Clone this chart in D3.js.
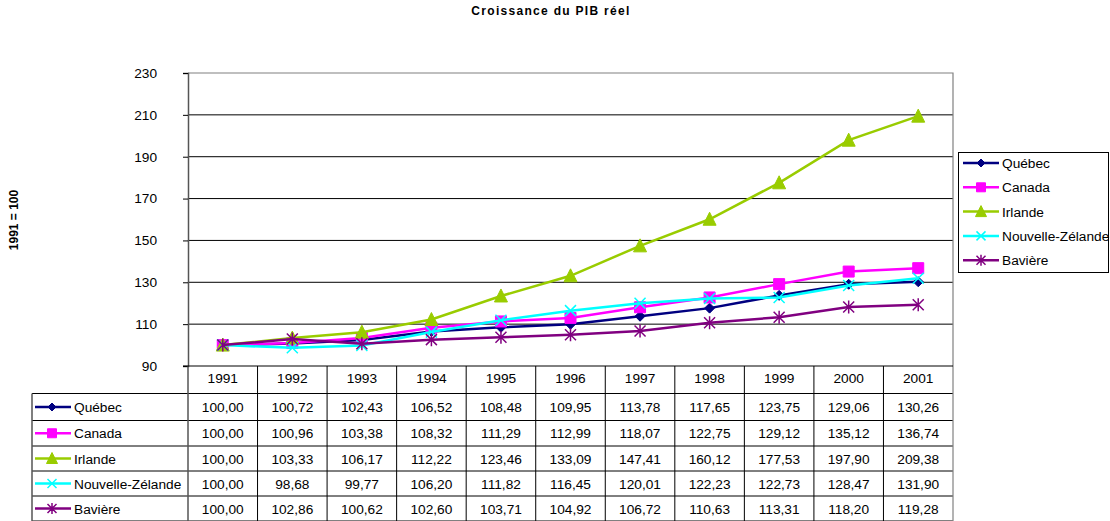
<!DOCTYPE html>
<html><head><meta charset="utf-8">
<script src="https://cdn.jsdelivr.net/npm/d3@7"></script>
<style>body{margin:0;background:#fff}svg{display:block;font-family:"Liberation Sans",Arial,sans-serif}</style>
</head><body><svg id="c" width="1110" height="521"></svg>
<script>
const years = ["1991","1992","1993","1994","1995","1996","1997","1998","1999","2000","2001"];
const seriesNames = ["Québec","Canada","Irlande","Nouvelle-Zélande","Bavière"];
const quebec = [100.00,100.72,102.43,106.52,108.48,109.95,113.78,117.65,123.75,129.06,130.26];
const canada = [100.00,100.96,103.38,108.32,111.29,112.99,118.07,122.75,129.12,135.12,136.74];
const irlande = [100.00,103.33,106.17,112.22,123.46,133.09,147.41,160.12,177.53,197.90,209.38];
const nz = [100.00,98.68,99.77,106.20,111.82,116.45,120.01,122.23,122.73,128.47,131.90];
const baviere = [100.00,102.86,100.62,102.60,103.71,104.92,106.72,110.63,113.31,118.20,119.28];
const yTicks = [90,110,130,150,170,190,210,230];
const colors = ["#000080","#FF00FF","#99CC00","#00FFFF","#800080"];
const markers = ["diamond","square","triangle","x","star"];
const seriesVals = [quebec,canada,irlande,nz,baviere];

const FS = 13.7;
const svg = d3.select("#c");
const L=188, R=953, T=73, B=366;
const x = d3.scaleBand().domain(years).range([L,R]);
const y = d3.scaleLinear().domain([90,230]).range([B,T]);

svg.append("text").attr("x",551).attr("y",15).attr("text-anchor","middle")
  .attr("font-size",12).attr("font-weight","bold").attr("letter-spacing","1.3px").text("Croissance du PIB réel");
svg.append("text").attr("transform","translate(18,220) rotate(-90)").attr("text-anchor","middle")
  .attr("font-size",12).attr("font-weight","bold").text("1991 = 100");

// grid
svg.append("g").selectAll("line").data(yTicks.filter(d=>d>90&&d<230)).join("line")
  .attr("x1",L).attr("x2",R).attr("y1",d=>y(d)).attr("y2",d=>y(d)).attr("stroke","#000").attr("stroke-width",1);
// plot border
svg.append("path").attr("d",`M${L},${T}H${R}V${B}`).attr("fill","none").attr("stroke","#808080").attr("stroke-width",1.2);

// y axis
const ya = svg.append("g").attr("transform",`translate(${L},0)`)
  .call(d3.axisLeft(y).tickValues(yTicks).tickSize(5).tickPadding(26).tickFormat(d3.format("d")));
ya.select(".domain").attr("stroke","#555").attr("stroke-width",1.5);
ya.selectAll(".tick line").attr("stroke","#000");
ya.selectAll("text").attr("font-size",FS).attr("font-family","Liberation Sans, Arial").attr("fill","#000");

function markerPath(type, size){
  const s=size/2;
  if(type==="diamond") return `M0,${-s}L${s},0L0,${s}L${-s},0Z`;
  if(type==="square") return `M${-s},${-s}H${s}V${s}H${-s}Z`;
  if(type==="triangle") return `M0,${-s-1}L${s+0.5},${s}L${-s-0.5},${s}Z`;
  if(type==="x") return `M${-s},${-s}L${s},${s}M${s},${-s}L${-s},${s}`;
  if(type==="star") return `M${-s},${-s}L${s},${s}M${s},${-s}L${-s},${s}M0,${-s-1}V${s+1}`;
}
function drawMarker(g, type, color, cx, cy, size){
  const filled = type==="diamond"||type==="square"||type==="triangle";
  g.append("path").attr("transform",`translate(${cx},${cy})`).attr("d",markerPath(type,size))
    .attr("fill",filled?color:"none").attr("stroke",color).attr("stroke-width",filled?1:1.5);
}

const line = d3.line().x((d,i)=>x(years[i])+x.bandwidth()/2).y(d=>y(d));
const sizes=[10,11,12,11,11];
seriesVals.forEach((vals,k)=>{
  const g=svg.append("g");
  g.append("path").datum(vals).attr("d",line).attr("fill","none").attr("stroke",colors[k]).attr("stroke-width",2.5);
  vals.forEach((v,i)=>drawMarker(g,markers[k],colors[k],x(years[i])+x.bandwidth()/2,y(v),sizes[k]));
});

// legend box
const lg = svg.append("g");
lg.append("rect").attr("x",958.5).attr("y",152.5).attr("width",150).attr("height",120).attr("fill","#fff").attr("stroke","#000");
seriesNames.forEach((n,k)=>{
  const yy = 163 + k*24.3;
  lg.append("line").attr("x1",963).attr("x2",999).attr("y1",yy).attr("y2",yy).attr("stroke",colors[k]).attr("stroke-width",2.5);
  drawMarker(lg,markers[k],colors[k],981,yy,sizes[k]-2);
  lg.append("text").attr("x",1002).attr("y",yy+5).attr("font-size",FS).text(n);
});

// data table
const tb = svg.append("g");
const hTop=B;
const rowYs = [393.5,420.5,446,471,496,521];
years.forEach(yr=>{
  tb.append("text").attr("x",x(yr)+x.bandwidth()/2).attr("y",383).attr("text-anchor","middle").attr("font-size",FS).text(yr);
});
rowYs.forEach(yy=>{
  tb.append("line").attr("x1",32).attr("x2",R).attr("y1",yy).attr("y2",yy).attr("stroke","#000").attr("stroke-width",1);
});
years.forEach((yr,i)=>{
  if(i>0) tb.append("line").attr("x1",x(yr)).attr("x2",x(yr)).attr("y1",hTop).attr("y2",521).attr("stroke","#000");
});
tb.append("line").attr("x1",L).attr("x2",L).attr("y1",hTop).attr("y2",521).attr("stroke","#555").attr("stroke-width",1.5);
tb.append("line").attr("x1",R).attr("x2",R).attr("y1",hTop).attr("y2",521).attr("stroke","#808080").attr("stroke-width",1.2);
tb.append("line").attr("x1",32).attr("x2",32).attr("y1",rowYs[0]).attr("y2",521).attr("stroke","#555").attr("stroke-width",1.5);
tb.append("line").attr("x1",183).attr("x2",R).attr("y1",B).attr("y2",B).attr("stroke","#000");
const fmt = v=>d3.format(".2f")(v).replace(".",",");
seriesVals.forEach((vals,k)=>{
  const cy = (rowYs[k]+rowYs[k+1])/2;
  tb.append("line").attr("x1",35).attr("x2",71).attr("y1",cy).attr("y2",cy).attr("stroke",colors[k]).attr("stroke-width",2.5);
  drawMarker(tb,markers[k],colors[k],52,cy,sizes[k]-2);
  tb.append("text").attr("x",74).attr("y",cy+5).attr("font-size",FS).text(seriesNames[k]);
  vals.forEach((v,i)=>{
    tb.append("text").attr("x",x(years[i])+x.bandwidth()/2).attr("y",cy+5).attr("text-anchor","middle").attr("font-size",FS).text(fmt(v));
  });
});
</script></body></html>
